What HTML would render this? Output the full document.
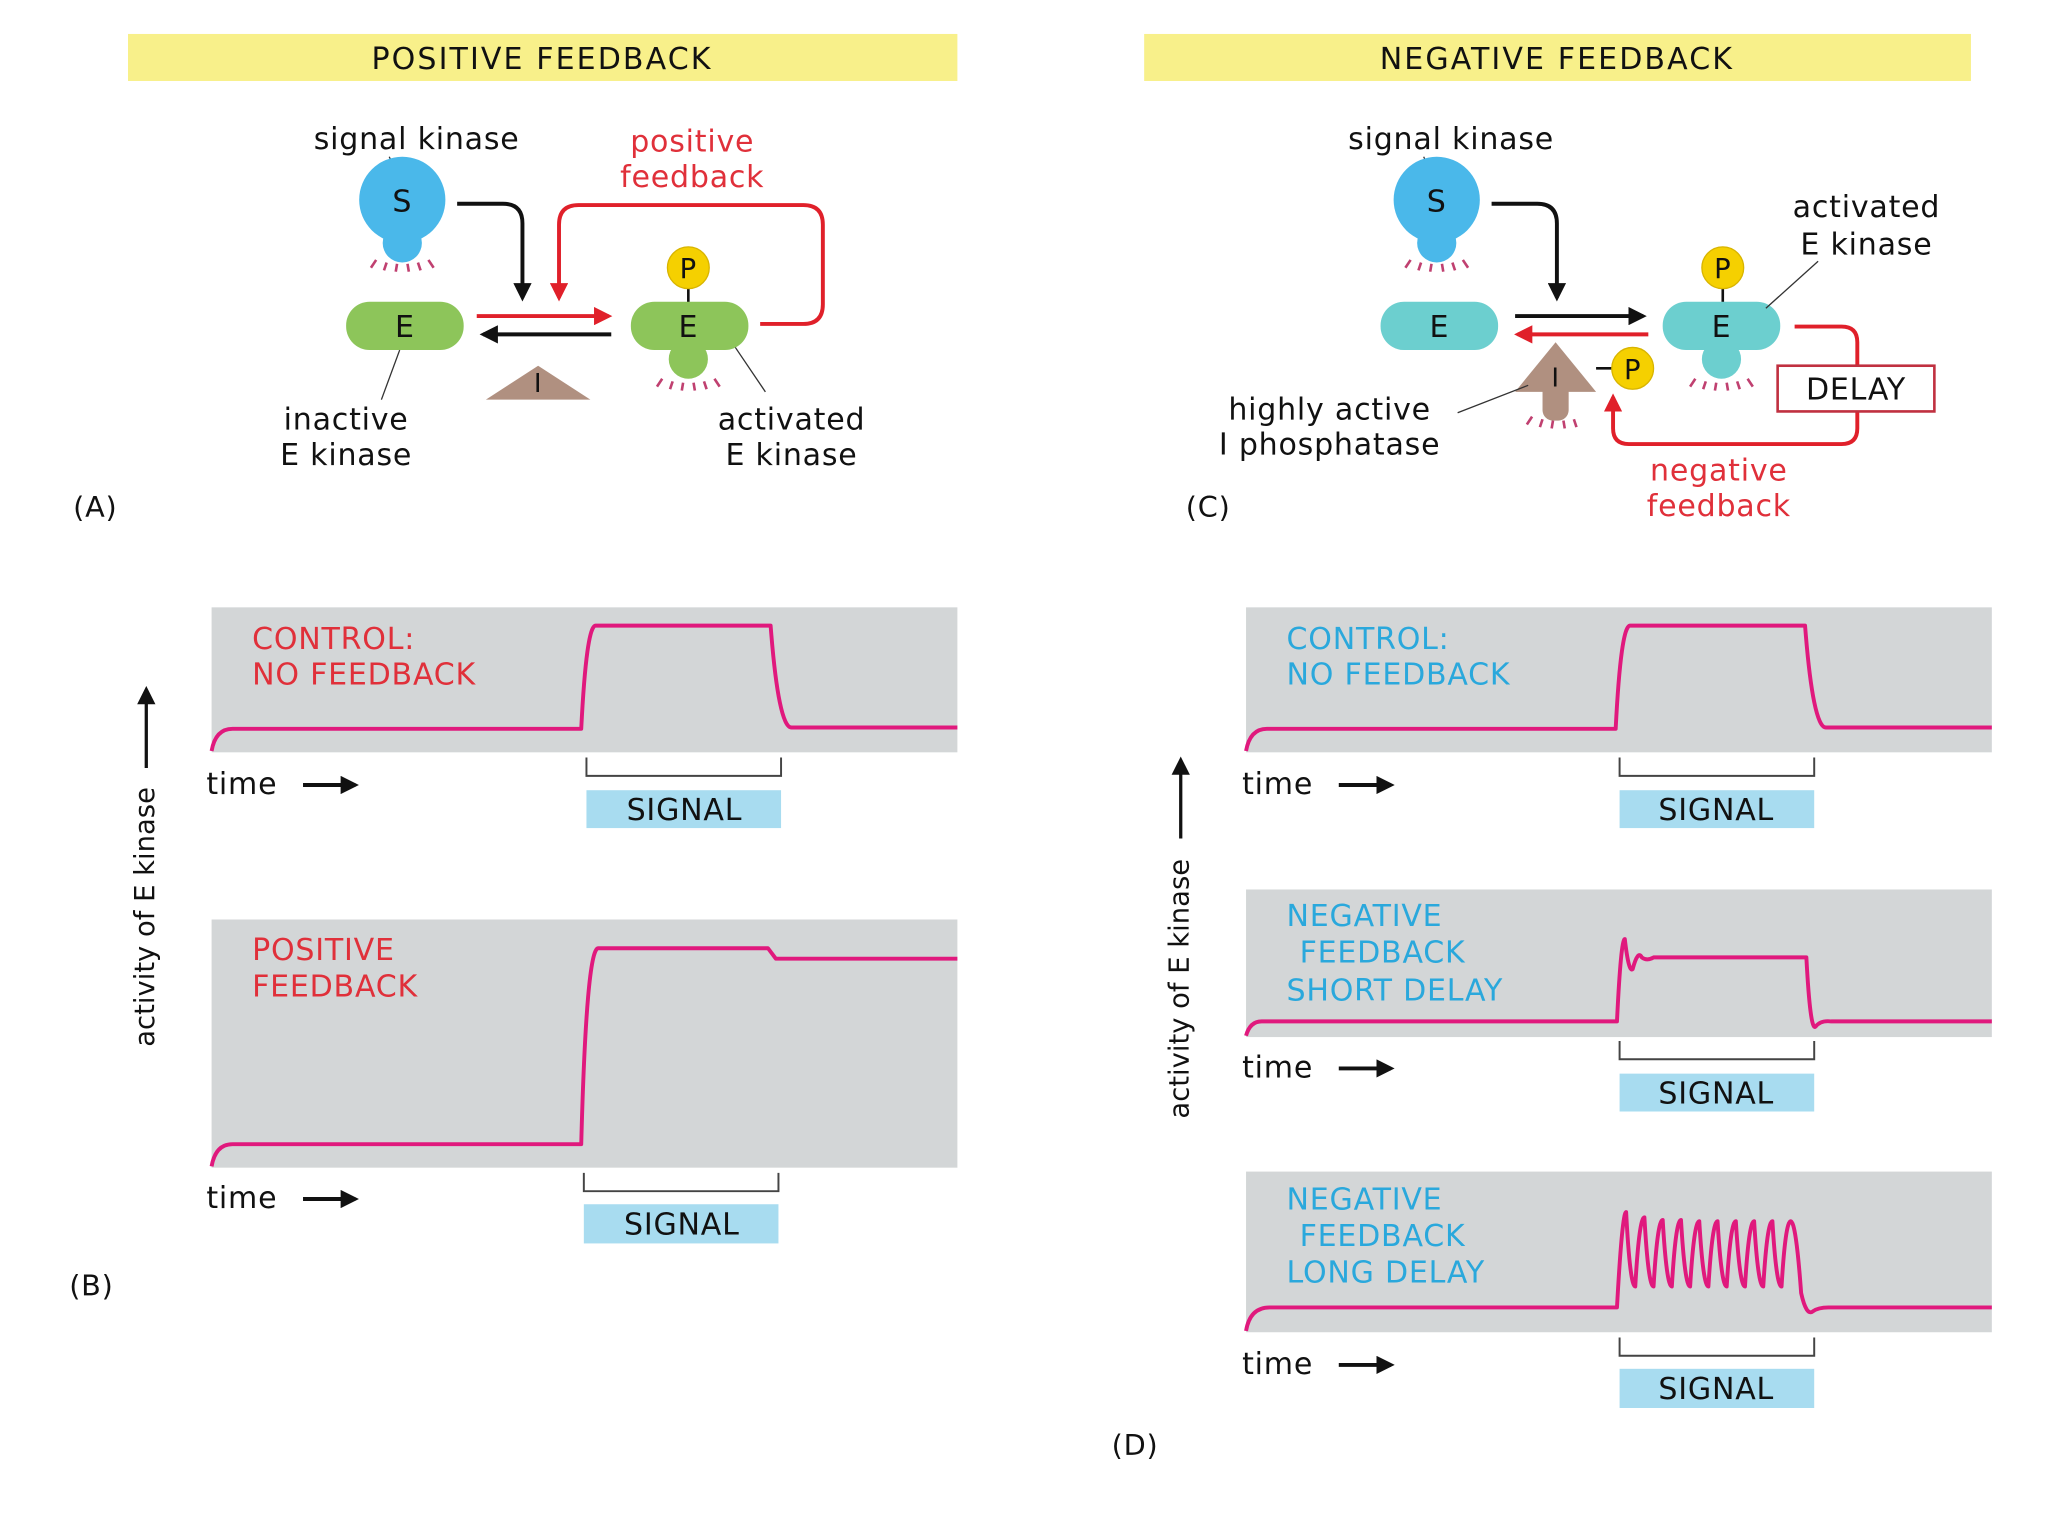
<!DOCTYPE html>
<html><head><meta charset="utf-8"><style>
html,body{margin:0;padding:0;background:#fff;}
svg{display:block;}
text{font-family:"DejaVu Sans","Liberation Sans",sans-serif;letter-spacing:0.6px;}
</style></head><body>
<svg width="2048" height="1536" viewBox="0 0 1568 1176" preserveAspectRatio="none" xmlns="http://www.w3.org/2000/svg">
<defs>
<marker id="akb" viewBox="0 0 10 10" markerWidth="14" markerHeight="14" refX="8" refY="5" orient="auto" markerUnits="userSpaceOnUse"><path d="M0,0 L10,5 L0,10 z" fill="#111"/></marker>
<marker id="arb" viewBox="0 0 10 10" markerWidth="14" markerHeight="14" refX="8" refY="5" orient="auto" markerUnits="userSpaceOnUse"><path d="M0,0 L10,5 L0,10 z" fill="#e0202a"/></marker>
</defs>
<rect width="1568" height="1176" fill="#fff"/>
<rect x="98" y="26" width="635" height="36" fill="#f8f08a"/>
<text x="415" y="53" font-size="23" text-anchor="middle" fill="#111" style="letter-spacing:1.6px">POSITIVE FEEDBACK</text>
<rect x="876" y="26" width="633" height="36" fill="#f8f08a"/>
<text x="1192" y="53" font-size="23" text-anchor="middle" fill="#111" style="letter-spacing:1.6px">NEGATIVE FEEDBACK</text>

<g font-size="23" fill="#111">
<text x="319" y="114" text-anchor="middle">signal kinase</text>
<line x1="298" y1="120" x2="305" y2="135" stroke="#333"/>
<circle cx="308" cy="153" r="33" fill="#4ab8ea"/>
<circle cx="308" cy="186" r="15" fill="#4ab8ea"/>
<text x="308" y="162" text-anchor="middle">S</text>
<g stroke="#c04070" stroke-width="2"><line x1="288" y1="199" x2="284" y2="205"/><line x1="296" y1="201" x2="294" y2="207"/><line x1="304" y1="202" x2="303" y2="208"/><line x1="312" y1="202" x2="313" y2="208"/><line x1="320" y1="201" x2="322" y2="207"/><line x1="328" y1="199" x2="332" y2="205"/></g>
<path d="M350,156 L385,156 Q400,156 400,171 L400,228" fill="none" stroke="#111" stroke-width="3" marker-end="url(#akb)"/>
<path d="M582,248 L615,248 Q630,248 630,233 L630,172 Q630,157 615,157 L443,157 Q428,157 428,172 L428,228" fill="none" stroke="#e0202a" stroke-width="3" marker-end="url(#arb)"/>
<rect x="265" y="231" width="90" height="37" rx="18" fill="#8dc55a"/>
<text x="310" y="258" text-anchor="middle">E</text>
<line x1="365" y1="242" x2="466" y2="242" stroke="#e0202a" stroke-width="3" marker-end="url(#arb)"/>
<line x1="468" y1="256" x2="370" y2="256" stroke="#111" stroke-width="3" marker-end="url(#akb)"/>
<polygon points="372,306 452,306 412,280" fill="#b09080"/>
<text x="412" y="300" text-anchor="middle" font-size="20">I</text>
<line x1="527" y1="220" x2="527" y2="232" stroke="#111" stroke-width="2"/>
<circle cx="527" cy="205" r="16" fill="#f5d000" stroke="#d8b400"/>
<text x="527" y="213" text-anchor="middle" font-size="21">P</text>
<circle cx="527" cy="275" r="15" fill="#8dc55a"/>
<rect x="483" y="231" width="90" height="37" rx="18" fill="#8dc55a"/>
<text x="527" y="258" text-anchor="middle">E</text>
<g stroke="#c04070" stroke-width="2"><line x1="507" y1="290" x2="503" y2="296"/><line x1="515" y1="292" x2="513" y2="298"/><line x1="523" y1="293" x2="522" y2="299"/><line x1="531" y1="293" x2="532" y2="299"/><line x1="539" y1="292" x2="541" y2="298"/><line x1="547" y1="290" x2="551" y2="296"/></g>
<line x1="306" y1="268" x2="292" y2="306" stroke="#333"/>
<line x1="563" y1="266" x2="586" y2="300" stroke="#333"/>
<text x="265" y="329" text-anchor="middle">inactive</text>
<text x="265" y="356" text-anchor="middle">E kinase</text>
<text x="606" y="329" text-anchor="middle">activated</text>
<text x="606" y="356" text-anchor="middle">E kinase</text>
<text x="530" y="116" text-anchor="middle" fill="#e0303a">positive</text>
<text x="530" y="143" text-anchor="middle" fill="#e0303a">feedback</text>
<text x="73" y="396" text-anchor="middle" font-size="22">(A)</text>

<text x="1111" y="114" text-anchor="middle">signal kinase</text>
<line x1="1090" y1="120" x2="1097" y2="135" stroke="#333"/>
<circle cx="1100" cy="153" r="33" fill="#4ab8ea"/>
<circle cx="1100" cy="186" r="15" fill="#4ab8ea"/>
<text x="1100" y="162" text-anchor="middle">S</text>
<g stroke="#c04070" stroke-width="2"><line x1="1080" y1="199" x2="1076" y2="205"/><line x1="1088" y1="201" x2="1086" y2="207"/><line x1="1096" y1="202" x2="1095" y2="208"/><line x1="1104" y1="202" x2="1105" y2="208"/><line x1="1112" y1="201" x2="1114" y2="207"/><line x1="1120" y1="199" x2="1124" y2="205"/></g>
<path d="M1142,156 L1177,156 Q1192,156 1192,171 L1192,228" fill="none" stroke="#111" stroke-width="3" marker-end="url(#akb)"/>
<rect x="1057" y="231" width="90" height="37" rx="18" fill="#6ccfcf"/>
<text x="1102" y="258" text-anchor="middle">E</text>
<line x1="1160" y1="242" x2="1258" y2="242" stroke="#111" stroke-width="3" marker-end="url(#akb)"/>
<line x1="1262" y1="256" x2="1162" y2="256" stroke="#e0202a" stroke-width="3" marker-end="url(#arb)"/>
<polygon points="1160,300 1222,300 1191,262" fill="#b09080"/>
<rect x="1181" y="290" width="20" height="32" rx="8" fill="#b09080"/>
<text x="1191" y="296" text-anchor="middle" font-size="20">I</text>
<g stroke="#c04070" stroke-width="2"><line x1="1173" y1="319" x2="1169" y2="325"/><line x1="1181" y1="321" x2="1179" y2="327"/><line x1="1189" y1="322" x2="1188" y2="328"/><line x1="1197" y1="322" x2="1198" y2="328"/><line x1="1205" y1="321" x2="1207" y2="327"/></g>
<line x1="1222" y1="282" x2="1236" y2="282" stroke="#111" stroke-width="2"/>
<circle cx="1250" cy="282" r="16" fill="#f5d000" stroke="#d8b400"/>
<text x="1250" y="290" text-anchor="middle" font-size="21">P</text>
<line x1="1319" y1="220" x2="1319" y2="232" stroke="#111" stroke-width="2"/>
<circle cx="1319" cy="205" r="16" fill="#f5d000" stroke="#d8b400"/>
<text x="1319" y="213" text-anchor="middle" font-size="21">P</text>
<circle cx="1318" cy="275" r="15" fill="#6ccfcf"/>
<rect x="1273" y="231" width="90" height="37" rx="18" fill="#6ccfcf"/>
<text x="1318" y="258" text-anchor="middle">E</text>
<g stroke="#c04070" stroke-width="2"><line x1="1298" y1="290" x2="1294" y2="296"/><line x1="1306" y1="292" x2="1304" y2="298"/><line x1="1314" y1="293" x2="1313" y2="299"/><line x1="1322" y1="293" x2="1323" y2="299"/><line x1="1330" y1="292" x2="1332" y2="298"/><line x1="1338" y1="290" x2="1342" y2="296"/></g>
<text x="1429" y="166" text-anchor="middle">activated</text>
<text x="1429" y="195" text-anchor="middle">E kinase</text>
<line x1="1392" y1="200" x2="1352" y2="236" stroke="#333"/>
<path d="M1374,250 L1410,250 Q1422,250 1422,262 L1422,328 Q1422,340 1410,340 L1247,340 Q1235,340 1235,328 L1235,304" fill="none" stroke="#e0202a" stroke-width="3" marker-end="url(#arb)"/>
<rect x="1361" y="280" width="120" height="35" fill="#fff" stroke="#c03040" stroke-width="2"/>
<text x="1421" y="306" text-anchor="middle">DELAY</text>
<text x="1316" y="368" text-anchor="middle" fill="#e0303a">negative</text>
<text x="1316" y="395" text-anchor="middle" fill="#e0303a">feedback</text>
<text x="1018" y="321" text-anchor="middle">highly active</text>
<text x="1018" y="348" text-anchor="middle">I phosphatase</text>
<line x1="1116" y1="316" x2="1170" y2="295" stroke="#333"/>
<text x="925" y="396" text-anchor="middle" font-size="22">(C)</text>
</g>

<g fill="#d3d6d7">
<rect x="162" y="465" width="571" height="111"/>
<rect x="162" y="704" width="571" height="190"/>
<rect x="954" y="465" width="571" height="111"/>
<rect x="954" y="681" width="571" height="113"/>
<rect x="954" y="897" width="571" height="123"/>
</g>
<g fill="none" stroke="#e0197d" stroke-width="3" stroke-linejoin="round">
<path d="M162,575 Q165,558 178,558 L445,558 Q449,479 456,479 L590,479 Q596,557 606,557 L733,557"/>
<path d="M162,893 Q165,876 178,876 L445,876 Q449,726 458,726 L588,726 L594,734 L733,734"/>
<path d="M954,575 Q957,558 970,558 L1237,558 Q1241,479 1248,479 L1382,479 Q1388,557 1398,557 L1525,557"/>
<path d="M954,793 Q957,782 966,782 L1238,782 Q1241,719 1244,719 Q1247,745 1250,742 Q1254,727 1257,733 Q1261,736 1266,733 L1383,733 Q1386,790 1390,786 Q1394,781 1402,782 L1525,782"/>
<path d="M954,1019 Q957,1001 972,1001 L1238,1001 Q1242,928 1245,928 Q1248,985 1252,985 Q1255,932 1259,932 Q1262,985 1266,985 Q1269,934 1273,934 Q1276,985 1280,985 Q1283,934 1287,934 Q1290,985 1294,985 Q1297,935 1301,935 Q1304,985 1308,985 Q1311,935 1315,935 Q1318,985 1322,985 Q1325,935 1329,935 Q1332,985 1336,985 Q1339,935 1343,935 Q1346,985 1350,985 Q1353,935 1357,935 Q1360,985 1364,985 Q1367,935 1371,935 Q1375,935 1379,990 Q1383,1008 1388,1004 Q1392,1001 1400,1001 L1525,1001"/>
</g>
<g font-size="23">
<text x="193" y="497" fill="#e0303a">CONTROL:</text>
<text x="193" y="524" fill="#e0303a">NO FEEDBACK</text>
<text x="193" y="735" fill="#e0303a">POSITIVE</text>
<text x="193" y="763" fill="#e0303a">FEEDBACK</text>
<text x="985" y="497" fill="#2aa8dc">CONTROL:</text>
<text x="985" y="524" fill="#2aa8dc">NO FEEDBACK</text>
<text x="985" y="709" fill="#2aa8dc">NEGATIVE</text>
<text x="995" y="737" fill="#2aa8dc">FEEDBACK</text>
<text x="985" y="766" fill="#2aa8dc">SHORT DELAY</text>
<text x="985" y="926" fill="#2aa8dc">NEGATIVE</text>
<text x="995" y="954" fill="#2aa8dc">FEEDBACK</text>
<text x="985" y="982" fill="#2aa8dc">LONG DELAY</text>
</g>
<g fill="none" stroke="#444" stroke-width="1.5">
<path d="M449,580 V594 H598 V580"/>
<path d="M447,898 V912 H596 V898"/>
<path d="M1240,580 V594 H1389 V580"/>
<path d="M1240,797 V811 H1389 V797"/>
<path d="M1240,1024 V1038 H1389 V1024"/>
</g>
<g fill="#a8dcf0">
<rect x="449" y="605" width="149" height="29"/>
<rect x="447" y="922" width="149" height="30"/>
<rect x="1240" y="605" width="149" height="29"/>
<rect x="1240" y="822" width="149" height="29"/>
<rect x="1240" y="1048" width="149" height="30"/>
</g>
<g font-size="23" fill="#111" text-anchor="middle">
<text x="524" y="628">SIGNAL</text>
<text x="522" y="945">SIGNAL</text>
<text x="1314" y="628">SIGNAL</text>
<text x="1314" y="845">SIGNAL</text>
<text x="1314" y="1071">SIGNAL</text>
</g>
<g font-size="23" fill="#111">
<text x="158" y="608">time</text><line x1="232" y1="601" x2="272" y2="601" stroke="#111" stroke-width="3" marker-end="url(#akb)"/>
<text x="158" y="925">time</text><line x1="232" y1="918" x2="272" y2="918" stroke="#111" stroke-width="3" marker-end="url(#akb)"/>
<text x="951" y="608">time</text><line x1="1025" y1="601" x2="1065" y2="601" stroke="#111" stroke-width="3" marker-end="url(#akb)"/>
<text x="951" y="825">time</text><line x1="1025" y1="818" x2="1065" y2="818" stroke="#111" stroke-width="3" marker-end="url(#akb)"/>
<text x="951" y="1052">time</text><line x1="1025" y1="1045" x2="1065" y2="1045" stroke="#111" stroke-width="3" marker-end="url(#akb)"/>
<text transform="translate(118,702) rotate(-90)" text-anchor="middle" font-size="21" style="letter-spacing:0">activity of E kinase</text>
<line x1="112" y1="588" x2="112" y2="528" stroke="#111" stroke-width="2.5" marker-end="url(#akb)"/>
<text transform="translate(910,757) rotate(-90)" text-anchor="middle" font-size="21" style="letter-spacing:0">activity of E kinase</text>
<line x1="904" y1="642" x2="904" y2="582" stroke="#111" stroke-width="2.5" marker-end="url(#akb)"/>
<text x="70" y="992" text-anchor="middle" font-size="22">(B)</text>
<text x="869" y="1114" text-anchor="middle" font-size="22">(D)</text>
</g>
</svg>
</body></html>
